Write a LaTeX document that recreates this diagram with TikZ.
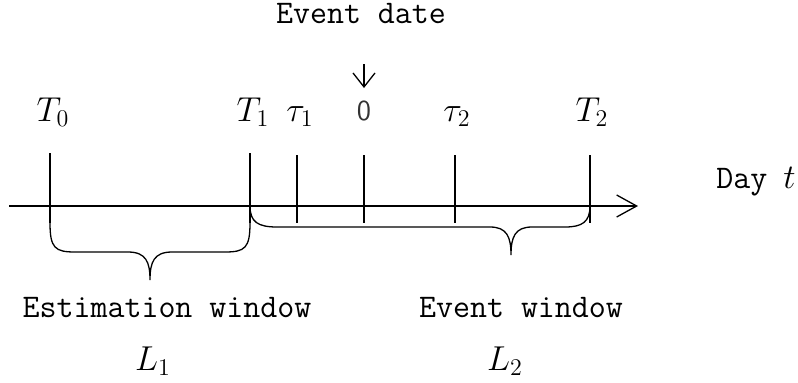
\documentclass[tikz,border=0pt]{standalone}
\usepackage{fontspec}
\usetikzlibrary{arrows.meta}
\begin{document}
\begin{tikzpicture}[x=0.5pt,y=-0.5pt,
  txt/.style={inner sep=0, anchor=base, font=\fontsize{16.5}{19}\selectfont\ttfamily},
  mth/.style={font=\fontsize{16.5}{19}\selectfont, inner sep=0, anchor=base},
  tickline/.style={line width=0.65pt, black},
  brace/.style={line width=0.65pt, black},
  axisarrow/.style={line width=0.65pt, -{Straight Barb[length=10pt,width=11pt,line width=0.65pt]}},
  downarrow/.style={line width=0.65pt, -{Straight Barb[length=7pt,width=11pt,line width=0.65pt]}}]
\useasboundingbox (0,0) rectangle (798,382);

% axis
\coordinate (axL) at (9,206);
\coordinate (axR) at (638,206);
\draw[axisarrow] (axL) -- (axR);

% ticks
\coordinate (t0top) at (50,153);  \coordinate (t0bot) at (50,223);
\coordinate (t1top) at (250,153); \coordinate (t1bot) at (250,223);
\coordinate (u1top) at (297,155); \coordinate (u1bot) at (297,223);
\coordinate (z0top) at (364,155); \coordinate (z0bot) at (364,223);
\coordinate (u2top) at (455,155); \coordinate (u2bot) at (455,223);
\coordinate (t2top) at (590,155); \coordinate (t2bot) at (590,223);
\draw[tickline] (t0top) -- (t0bot);
\draw[tickline] (t1top) -- (t1bot);
\draw[tickline] (u1top) -- (u1bot);
\draw[tickline] (z0top) -- (z0bot);
\draw[tickline] (u2top) -- (u2bot);
\draw[tickline] (t2top) -- (t2bot);

% tick labels
\node[mth] (lT0) at (53,121) {$T_0$};
\node[mth] (lT1) at (253,121) {$T_1$};
\node[mth] (lu1) at (300,121) {$\tau_1$};
\node[inner sep=0, anchor=base, text=black!80, font=\fontsize{14.5}{17}\selectfont\sffamily] (lz0) at (364,120) {0};
\node[mth] (lu2) at (457,121) {$\tau_2$};
\node[mth] (lT2) at (592,121) {$T_2$};

% event date
\node[txt] (ev) at (361,23) {Event date};
\coordinate (evA) at (364,64);
\coordinate (evB) at (364,88);
\draw[downarrow] (evA) -- (evB);

% day t
\node[txt, anchor=base west] (day) at (716,188) {Day};
\node[mth, anchor=base west] (dayt) at (783,188) {$t$};

% estimation window brace
\draw[brace] (t0bot) .. controls (50,248) and (55,252) .. (75,252)
  -- (128,252) .. controls (146,252) and (150,262) .. (150,280)
  .. controls (150,262) and (154,252) .. (172,252)
  -- (225,252) .. controls (245,252) and (250,248) .. (t1bot);

% event window brace
\draw[brace] (250,206) .. controls (250,222) and (258,227) .. (277,227)
  -- (490,227) .. controls (507,227) and (511,237) .. (511,255)
  .. controls (511,237) and (515,227) .. (532,227)
  -- (565,227) .. controls (582,227) and (590,222) .. (590,206);

% window labels
\node[txt] (estw) at (167,317) {Estimation window};
\node[txt] (evw) at (521,317) {Event window};
\node[mth] (L1) at (153,370) {$L_1$};
\node[mth] (L2) at (505,370) {$L_2$};
\end{tikzpicture}
\end{document}
